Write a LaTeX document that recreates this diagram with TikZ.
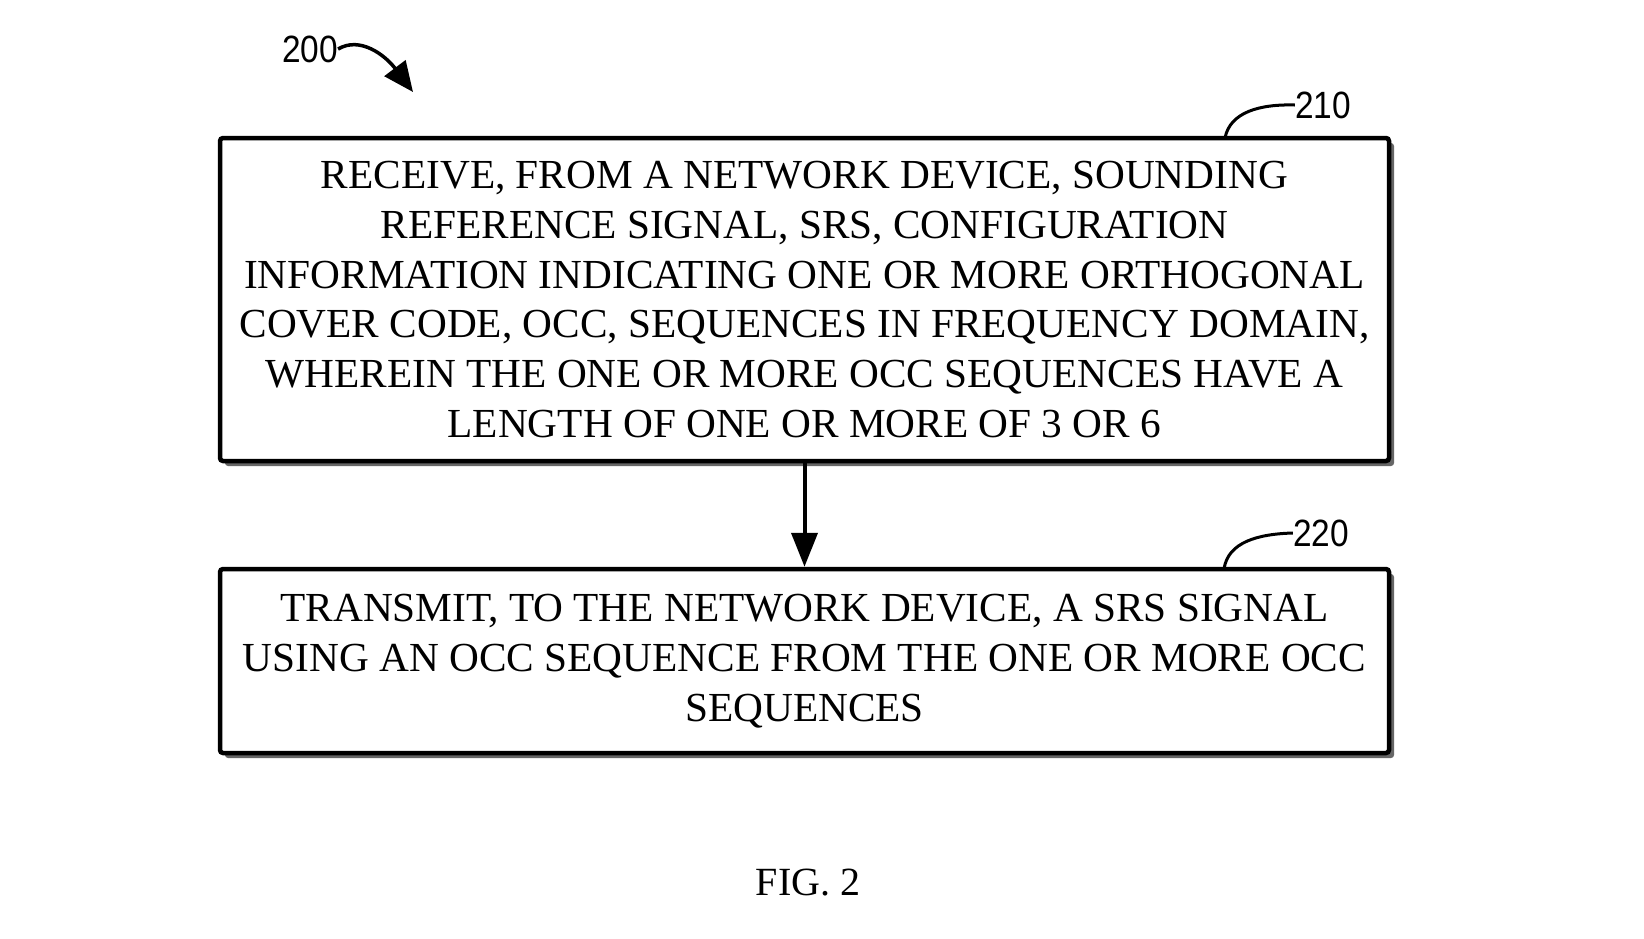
\documentclass[tikz,border=0pt]{standalone}
\usepackage{fontspec}
\setmainfont{Liberation Serif}
\newfontfamily\labelfont{Liberation Sans}
\usetikzlibrary{arrows.meta,shadows}
\begin{document}
\begin{tikzpicture}[x=1pt,y=-1pt,
  stepbox/.style={draw, line width=4.5pt, rounded corners=3pt, fill=white,
    align=center, inner sep=0pt,
    font=\fontsize{41.3}{49.7}\selectfont,
    drop shadow={shadow xshift=5pt, shadow yshift=-5pt, fill=black!60, opacity=1}},
  reflabel/.style={inner sep=0pt, font=\labelfont\fontsize{38}{40}\selectfont},
  leader/.style={line width=3pt},
  flow/.style={line width=4pt, -{Triangle[width=26pt,length=34pt]}}
]
\useasboundingbox (0,0) rectangle (1644,938);
\fill[white] (0,0) rectangle (1644,938);

\node[stepbox, minimum width=1169pt, minimum height=323pt] (b1) at (804.5,299.5)
 {RECEIVE, FROM A NETWORK DEVICE, SOUNDING\\
  REFERENCE SIGNAL, SRS, CONFIGURATION\\
  INFORMATION INDICATING ONE OR MORE ORTHOGONAL\\
  COVER CODE, OCC, SEQUENCES IN FREQUENCY DOMAIN,\\
  WHEREIN THE ONE OR MORE OCC SEQUENCES HAVE A\\
  LENGTH OF ONE OR MORE OF 3 OR 6};

\node[stepbox, minimum width=1169pt, minimum height=184pt] (b2) at (804.5,661)
 {TRANSMIT, TO THE NETWORK DEVICE, A SRS SIGNAL\\
  USING AN OCC SEQUENCE FROM THE ONE OR MORE OCC\\
  SEQUENCES};

\draw[flow] (b1.south) -- (b2.north);

% reference labels
\node[reflabel] (l200) at (310,49) {\scalebox{0.88}[1]{200}};
\node[reflabel] (l210) at (1323,105) {\scalebox{0.88}[1]{210}};
\node[reflabel] (l220) at (1321,533) {\scalebox{0.88}[1]{220}};

\coordinate (t200) at (413,92);
\coordinate (s210) at (1225,138);
\coordinate (s220) at (1224,569);

\draw[line width=3.5pt, -{Triangle[width=26pt,length=30pt]}]
  (l200.east) .. controls (360,36) and (385,55) .. (t200);
\draw[leader] (s210) .. controls (1230,112) and (1260,104) .. (l210.west);
\draw[leader] (s220) .. controls (1228,542) and (1258,534) .. (l220.west);

\node[inner sep=0pt, font=\fontsize{40}{44}\selectfont] (fig) at (808,883) {FIG. 2};
\end{tikzpicture}
\end{document}
